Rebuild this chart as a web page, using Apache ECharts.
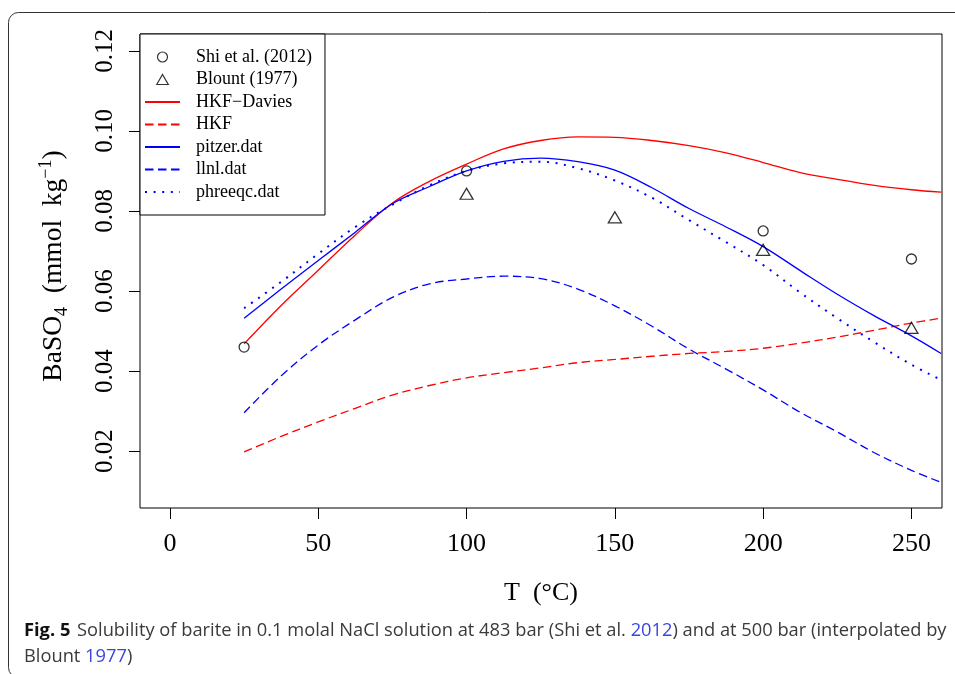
<!DOCTYPE html>
<html>
<head>
<meta charset="utf-8">
<script src="https://cdn.jsdelivr.net/npm/echarts@6/dist/echarts.min.js"></script>
<style>
  html, body { margin: 0; padding: 0; background: #fff; }
  #chart { width: 955px; height: 674px; }
</style>
</head>
<body>
<div id="chart"></div>
<script>
// ---- data ----
const temperature = [25, 37.5, 50, 62.5, 75, 87.5, 100, 112.5, 125, 137.5, 150, 162.5, 175, 187.5, 200, 212.5, 225, 237.5, 250, 260];
const hkfDavies = [0.0468, 0.0564, 0.0652, 0.0740, 0.0820, 0.0874, 0.0917, 0.0955, 0.0976, 0.0985, 0.0984, 0.0976, 0.0963, 0.0945, 0.0921, 0.0896, 0.0879, 0.0864, 0.0853, 0.0847];
const hkf = [0.0198, 0.0237, 0.0273, 0.0307, 0.0340, 0.0364, 0.0383, 0.0396, 0.0408, 0.0421, 0.0429, 0.0437, 0.0444, 0.0449, 0.0457, 0.0470, 0.0485, 0.0502, 0.0520, 0.0532];
const pitzer = [0.0532, 0.0605, 0.0676, 0.0747, 0.0818, 0.0861, 0.0900, 0.0924, 0.0932, 0.0923, 0.0902, 0.0858, 0.0806, 0.0760, 0.0711, 0.0651, 0.0592, 0.0538, 0.0488, 0.0444];
const llnl = [0.0296, 0.0388, 0.0465, 0.0528, 0.0584, 0.0618, 0.0630, 0.0637, 0.0631, 0.0605, 0.0563, 0.0512, 0.0455, 0.0405, 0.0353, 0.0297, 0.0248, 0.0196, 0.0152, 0.0122];
const phreeqc = [0.0557, 0.0623, 0.0693, 0.0760, 0.0816, 0.0864, 0.0900, 0.0919, 0.0923, 0.0907, 0.0876, 0.0833, 0.0777, 0.0722, 0.0665, 0.0596, 0.0532, 0.0472, 0.0416, 0.0378];

const shiT = [25, 100, 200, 250];
const shiValues = [0.046, 0.090, 0.075, 0.068];
const blountT = [100, 150, 200, 250];
const blountValues = [0.0843, 0.0784, 0.0703, 0.0508];

const xTicks = [0, 50, 100, 150, 200, 250];
const yTicks = [0.02, 0.04, 0.06, 0.08, 0.10, 0.12];
const seriesNames = ['Shi et al. (2012)', 'Blount (1977)', 'HKF\u2212Davies', 'HKF', 'pitzer.dat', 'llnl.dat', 'phreeqc.dat'];

// ---- build ----
const pairs = (xs, ys) => xs.map((x, i) => [x, ys[i]]);
const serif = 'Liberation Serif, Times New Roman, serif';
const RED = '#ff0000', BLUE = '#0000ff';
const TRI = 'path://M0,10L5.77,0L11.55,10Z';
const capFont = 'Open Sans';
const capSize = 18.3;

function lineSeries(name, values, color, type, width) {
  return {
    name, type: 'line', data: pairs(temperature, values),
    symbol: 'none', smooth: 0.35, clip: true,
    lineStyle: { color, width: width || 1.3, type: type || 'solid', cap: 'butt' },
    itemStyle: { color },
    silent: true, z: 3
  };
}

const chart = echarts.init(document.getElementById('chart'), null, { renderer: 'canvas' });

chart.setOption({
  animation: false,
  backgroundColor: '#fff',
  grid: { left: 140, top: 34, right: 13, bottom: 166, show: true, borderColor: '#000', borderWidth: 1, backgroundColor: 'transparent' },
  xAxis: {
    type: 'value', min: -10.1, max: 260.3,
    axisLine: { show: false, onZero: false },
    splitLine: { show: false },
    axisTick: { show: true, length: 11, lineStyle: { color: '#000', width: 1 }, customValues: xTicks },
    axisLabel: { customValues: xTicks, fontFamily: serif, fontSize: 26, color: '#000', margin: 23, formatter: v => String(v) },
    name: 'T  (\u00B0C)', nameLocation: 'middle', nameGap: 72,
    nameTextStyle: { fontFamily: serif, fontSize: 26, color: '#000' }
  },
  yAxis: {
    type: 'value', min: 0.0058, max: 0.1242,
    axisLine: { show: false, onZero: false },
    splitLine: { show: false },
    axisTick: { show: true, length: 11, lineStyle: { color: '#000', width: 1 }, customValues: yTicks },
    axisLabel: { customValues: yTicks, rotate: 90, fontFamily: serif, fontSize: 25, color: '#000', margin: 22, formatter: v => v.toFixed(2) },
    name: '{m|BaSO}{sub|4}{m|  (mmol  kg}{sup|\u22121}{m|)}',
    nameLocation: 'middle', nameRotate: 90, nameGap: 69,
    nameTextStyle: {
      fontFamily: serif, color: '#000', padding: [0, 0, 0, 10],
      rich: {
        m: { fontFamily: serif, fontSize: 27.5, lineHeight: 34, verticalAlign: 'middle', color: '#000' },
        sub: { fontFamily: serif, fontSize: 18, lineHeight: 18, verticalAlign: 'bottom', color: '#000' },
        sup: { fontFamily: serif, fontSize: 18, lineHeight: 18, verticalAlign: 'top', color: '#000' }
      }
    }
  },
  legend: {
    left: 140, top: 34, orient: 'vertical',
    padding: [14, 13, 14, 4],
    itemWidth: 35, itemHeight: 10, itemGap: 4.5,
    borderColor: '#000', borderWidth: 1, backgroundColor: '#fff',
    selectedMode: false,
    textStyle: { fontFamily: serif, fontSize: 18, color: '#000', padding: [0, 0, 0, 11] },
    data: [
      { name: seriesNames[0], icon: 'circle', itemStyle: { borderWidth: 1.2 } },
      { name: seriesNames[1], icon: TRI, itemStyle: { borderWidth: 1.2 } },
      { name: seriesNames[2], itemStyle: { opacity: 0 } },
      { name: seriesNames[3], itemStyle: { opacity: 0 } },
      { name: seriesNames[4], itemStyle: { opacity: 0 } },
      { name: seriesNames[5], itemStyle: { opacity: 0 } },
      { name: seriesNames[6], itemStyle: { opacity: 0 } }
    ]
  },
  series: [
    {
      name: seriesNames[0], type: 'scatter', data: pairs(shiT, shiValues),
      symbol: 'circle', symbolSize: 10,
      itemStyle: { color: 'rgba(0,0,0,0)', borderColor: '#000', borderWidth: 1.3 }, z: 5
    },
    {
      name: seriesNames[1], type: 'scatter', data: pairs(blountT, blountValues),
      symbol: TRI, symbolSize: [13, 11], symbolKeepAspect: false,
      itemStyle: { color: 'rgba(0,0,0,0)', borderColor: '#000', borderWidth: 1.3 }, z: 5
    },
    lineSeries(seriesNames[2], hkfDavies, RED, 'solid'),
    lineSeries(seriesNames[3], hkf, RED, [8.5, 4.5]),
    lineSeries(seriesNames[4], pitzer, BLUE, 'solid'),
    lineSeries(seriesNames[5], llnl, BLUE, [8.5, 4.5]),
    lineSeries(seriesNames[6], phreeqc, BLUE, [2, 6.6], 2)
  ],
  graphic: [
    {
      type: 'rect', silent: true, z: -1,
      shape: { x: 8.5, y: 12.5, width: 1000, height: 665, r: 10 },
      style: { fill: 'none', stroke: '#333', lineWidth: 1 }
    },
    {
      type: 'text', x: 24, y: 631, silent: true,
      style: {
        text: '{b|Fig. 5}  {n|Solubility of barite in 0.1 molal NaCl solution at 483 bar (Shi et al. }{l|2012}{n|) and at 500 bar (interpolated by}',
        verticalAlign: 'middle',
        rich: {
          b: { fontFamily: capFont, fontSize: capSize, fontWeight: 'bold', fill: '#111' },
          n: { fontFamily: capFont, fontSize: capSize, fill: '#3a3a3a' },
          l: { fontFamily: capFont, fontSize: capSize, fill: '#3b46e0' }
        }
      }
    },
    {
      type: 'text', x: 24, y: 657, silent: true,
      style: {
        text: '{n|Blount }{l|1977}{n|)}',
        verticalAlign: 'middle',
        rich: {
          n: { fontFamily: capFont, fontSize: capSize, fill: '#3a3a3a' },
          l: { fontFamily: capFont, fontSize: capSize, fill: '#3b46e0' }
        }
      }
    }
  ]
});
</script>
</body>
</html>
